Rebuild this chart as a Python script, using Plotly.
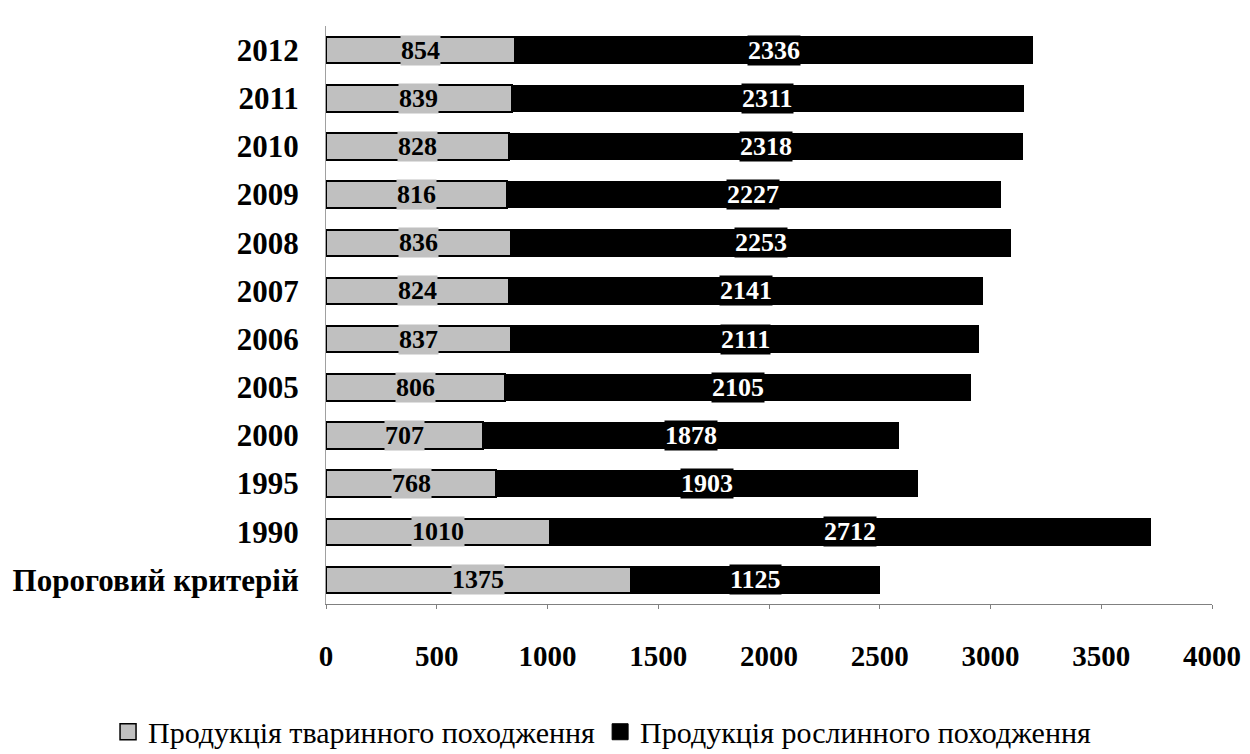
import plotly.graph_objects as go

categories = ["Пороговий критерій", "1990", "1995", "2000", "2005", "2006",
              "2007", "2008", "2009", "2010", "2011", "2012"]
animal = [1375, 1010, 768, 707, 806, 837, 824, 836, 816, 828, 839, 854]
plant = [1125, 2712, 1903, 1878, 2105, 2111, 2141, 2253, 2227, 2318, 2311, 2336]
x_ticks = [0, 500, 1000, 1500, 2000, 2500, 3000, 3500, 4000]
series_names = ["Продукція тваринного походження", "Продукція рослинного походження"]

GRAY = "#c0c0c0"
FONT = "Liberation Serif"
LBL = 26

fig = go.Figure()
fig.add_trace(go.Bar(
    y=categories, x=animal, orientation="h", name=series_names[0],
    marker=dict(color=GRAY, line=dict(color="black", width=2)),
    width=0.55, hoverinfo="x+y", showlegend=False,
))
fig.add_trace(go.Bar(
    y=categories, x=plant, orientation="h", name=series_names[1],
    marker=dict(color="black", line=dict(color="black", width=1)),
    width=0.55, hoverinfo="x+y", showlegend=False,
))
# legend-only entries with larger square symbols
fig.add_trace(go.Scatter(
    x=[None], y=[None], mode="markers", name=series_names[0],
    marker=dict(symbol="square", size=17, color=GRAY, line=dict(color="black", width=1.5)),
))
fig.add_trace(go.Scatter(
    x=[None], y=[None], mode="markers", name=series_names[1],
    marker=dict(symbol="square", size=17, color="black", line=dict(color="black", width=1)),
))

for i, (a, p) in enumerate(zip(animal, plant)):
    fig.add_annotation(
        x=a / 2, y=i, xref="x", yref="y", text="<b>%d</b>" % a, showarrow=False,
        font=dict(family=FONT, size=LBL, color="black"),
        bgcolor=GRAY, borderpad=0,
    )
    fig.add_annotation(
        x=a + p / 2, y=i, xref="x", yref="y", text="<b>%d</b>" % p, showarrow=False,
        font=dict(family=FONT, size=LBL, color="white"),
        bgcolor="black", borderpad=0,
    )

fig.update_layout(
    barmode="stack",
    width=1242, height=746,
    margin=dict(l=318, r=38, t=18, b=150, autoexpand=False),
    paper_bgcolor="white", plot_bgcolor="white",
    font=dict(family=FONT, color="black"),
    legend=dict(
        orientation="h",
        x=-0.246, xanchor="left", y=-0.266, yanchor="bottom",
        font=dict(family=FONT, size=30, color="black"),
        traceorder="normal", itemwidth=30,
    ),
    showlegend=True,
)
fig.update_xaxes(
    range=[0, 4000], tickvals=x_ticks, ticktext=[str(v) for v in x_ticks],
    showgrid=False, zeroline=False, showline=True, linecolor="#808080", linewidth=1,
    ticks="outside", ticklen=4, tickcolor="#808080", automargin=False,
    tickfont=dict(family=FONT, size=29, color="black", weight="bold"),
    ticklabelstandoff=22,
)
fig.update_yaxes(
    type="category", categoryorder="array", categoryarray=categories,
    range=[-0.5, len(categories) - 0.5], autorange=False, automargin=False,
    showgrid=False, zeroline=False, showline=True, linecolor="#a0a0a0", linewidth=1,
    ticks="", tickfont=dict(family=FONT, size=31, color="black", weight="bold"),
    ticklabelstandoff=20,
)

fig.write_html("out.html")
